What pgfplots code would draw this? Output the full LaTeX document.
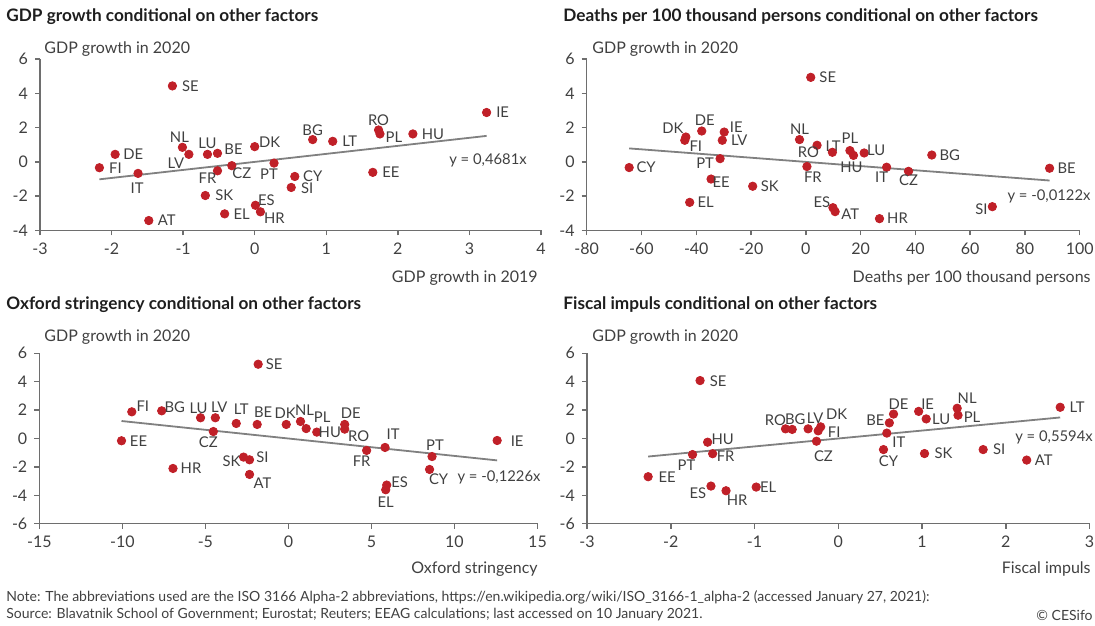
\documentclass[border=0pt]{standalone}
\usepackage{fontspec}
\setmainfont{Lato}
\usepackage{pgfplots}
\usepackage{pgfplotstable}
\pgfplotsset{compat=1.18}

\definecolor{dotred}{RGB}{192,32,40}
\definecolor{trendgray}{RGB}{128,128,128}
\definecolor{axgray}{RGB}{110,110,110}
\definecolor{txt}{RGB}{64,64,64}
\definecolor{ttl}{RGB}{30,30,30}

\newcommand{\tickfont}{\fontsize{8}{9.6}\selectfont}
\newcommand{\lblfont}{\fontsize{7.4}{9}\selectfont}

\pgfplotsset{
  panel/.style={
    scale only axis, clip=false, anchor=south west,
    axis x line*=bottom, axis y line*=left,
    axis line style={draw=axgray, line width=0.75pt, -},
    tick style={draw=axgray, line width=0.75pt},
    tick align=outside, major tick length=2.5pt,
    tick label style={font=\tickfont, text=txt},
    /pgf/number format/assume math mode=true,
  },
  pts/.style={
    only marks, mark=*, mark size=2.1pt, color=dotred,
    nodes near coords, point meta=explicit symbolic,
    visualization depends on={\thisrow{dx}\as\dx},
    visualization depends on={\thisrow{dy}\as\dy},
    every node near coord/.append style={text=txt, font=\lblfont,
      anchor=center, inner sep=0pt, xshift=\dx*0.5pt, yshift=\dy*0.5pt},
  },
  trend/.style={draw=trendgray, line width=0.9pt, no marks},
}

% x y label, label offset dx dy (px)
\pgfplotstableread{
lab x y dx dy
SE -1.15 4.43 18 0
NL -1.01 0.85 -3 10
LV -0.92 0.44 -13 -9
LU -0.66 0.44 0 11
BE -0.52 0.50 16 4
DK 0.00 0.89 15 4
DE -1.95 0.44 18 0
FI -2.17 -0.34 16 0
IT -1.63 -0.67 -1 -15
FR -0.52 -0.52 -10 -7
CZ -0.32 -0.22 10 -8
PT 0.27 -0.07 -5 -11
SK -0.69 -1.96 19 0
ES 0.01 -2.53 11 5
HR 0.08 -2.91 14 -6
EL -0.42 -3.03 17 0
AT -1.48 -3.42 18 0
BG 0.81 1.30 0 9
LT 1.09 1.20 17 0
RO 1.73 1.86 0 10
PL 1.75 1.63 14 -3
HU 2.21 1.63 20 0
IE 3.24 2.88 16 0
CY 0.56 -0.85 18 0
SI 0.51 -1.49 16 -1
EE 1.65 -0.61 18 0
}\tGdp

\pgfplotstableread{
lab x y dx dy
SE 1.8 4.93 17 0
DK -43.8 1.45 -13 9
FI -44.2 1.26 11 -6
DE -38.0 1.80 3 11
IE -29.8 1.74 12 5
LV -30.5 1.26 17 0
PT -31.3 0.19 -15 -5
CY -64.5 -0.33 17 0
EE -34.6 -1.00 10 -3
SK -19.4 -1.42 17 0
EL -42.4 -2.36 16 0
NL -2.3 1.30 0 10
LT 4.1 0.97 16 -1
RO 9.7 0.56 -24 0
FR 0.4 -0.27 6 -11
PL 16.1 0.66 0 12
HU 17.4 0.38 -2 -12
LU 21.3 0.52 12 3
BG 46.0 0.40 18 0
IT 29.5 -0.31 -5 -10
CZ 37.5 -0.55 0 -9
BE 89.0 -0.37 17 0
SI 68.1 -2.61 -11 -3
HR 26.9 -3.31 18 0
ES 9.9 -2.67 -11 5
AT 10.7 -2.90 15 -3
}\tDeaths

\pgfplotstableread{
lab x y dx dy
SE -1.82 5.23 16 0
FI -9.43 1.88 11 6
BG -7.63 1.95 13 4
LU -5.29 1.46 -2 10
LV -4.40 1.46 4 11
LT -3.14 1.06 5 14
BE -1.88 0.99 6 12
CZ -4.52 0.49 -5 -11
EE -10.05 -0.16 17 0
HR -6.95 -2.11 18 0
SK -2.70 -1.31 -12 -4
SI -2.34 -1.50 13 3
AT -2.34 -2.53 13 -9
DK -0.13 0.99 -1 11
NL 0.73 1.20 4 11
PL 1.07 0.70 16 11
HU 1.71 0.45 13 0
DE 3.39 0.99 6 11
RO 3.39 0.66 14 -7
FR 4.71 -0.84 -5 -11
IT 5.82 -0.63 8 13
PT 8.65 -1.27 3 11
CY 8.50 -2.18 9 -10
IE 12.57 -0.14 20 -1
ES 5.92 -3.28 13 3
EL 5.86 -3.61 0 -12
}\tOxford

\pgfplotstableread{
lab x y dx dy
SE -1.65 4.08 18 -1
RO -0.63 0.68 -10 9
BG -0.55 0.64 3 10
LV -0.36 0.68 7 11
DK -0.21 0.82 16 13
FI -0.24 0.54 16 -1
CZ -0.26 -0.19 7 -15
HU -1.56 -0.26 15 3
PT -1.74 -1.13 -6 -11
FR -1.50 -1.07 13 -3
EE -2.27 -2.69 19 0
ES -1.52 -3.35 -13 -7
HR -1.34 -3.68 11 -9
EL -0.98 -3.42 12 0
BE 0.61 1.10 -14 3
DE 0.66 1.72 5 10
IE 0.96 1.91 9 7
LU 1.05 1.38 15 0
NL 1.42 2.13 10 10
PL 1.43 1.64 14 -2
LT 2.65 2.20 17 0
IT 0.58 0.38 12 -9
CY 0.54 -0.78 5 -12
SK 1.03 -1.06 19 0
SI 1.73 -0.78 16 0
AT 2.25 -1.52 17 0
}\tFiscal

\begin{document}
\begin{tikzpicture}
\path[use as bounding box] (0,0) rectangle (547.5pt,-312.5pt);

% GDP growth 2019
\begin{axis}[panel, at={(20pt,-115.25pt)}, width=250.5pt, height=85.75pt,
  xmin=-3, xmax=4, ymin=-4, ymax=6, xtick={-3,...,4}, ytick={-4,-2,...,6}]
  \addplot[trend] coordinates {(-2.17,-1.0158) (3.24,1.5166)};
  \addplot[pts] table[x=x, y=y, meta=lab] {\tGdp};
\end{axis}

% Deaths
\begin{axis}[panel, at={(293.35pt,-115.25pt)}, width=246.5pt, height=85.75pt,
  xmin=-80, xmax=100, ymin=-4, ymax=6, xtick={-80,-60,...,100}, ytick={-4,-2,...,6}]
  \addplot[trend] coordinates {(-64.5,0.7869) (89,-1.0858)};
  \addplot[pts] table[x=x, y=y, meta=lab] {\tDeaths};
\end{axis}

% Oxford stringency
\begin{axis}[panel, at={(19.65pt,-261.85pt)}, width=249.1pt, height=85.2pt,
  xmin=-15, xmax=15, ymin=-6, ymax=6, xtick={-15,-10,...,15}, ytick={-6,-4,...,6}]
  \addplot[trend] coordinates {(-10.05,1.2321) (12.57,-1.5411)};
  \addplot[pts] table[x=x, y=y, meta=lab] {\tOxford};
\end{axis}

% Fiscal impulse
\begin{axis}[panel, at={(293.5pt,-261.85pt)}, width=251.25pt, height=85.2pt,
  xmin=-3, xmax=3, ymin=-6, ymax=6, xtick={-3,...,3}, ytick={-6,-4,...,6}]
  \addplot[trend] coordinates {(-2.27,-1.2698) (2.65,1.4824)};
  \addplot[pts] table[x=x, y=y, meta=lab] {\tFiscal};
\end{axis}

\begin{scope}[x=0.5pt, y=-0.5pt, every node/.style={inner sep=0pt, text=txt}]
  \def\ttlfont{\fontsize{8.6}{10}\selectfont\bfseries}
  \def\axfont{\fontsize{8}{9.6}\selectfont}
  \def\notefont{\fontsize{7}{8.4}\selectfont}
  \node[anchor=west, text=ttl, font=\ttlfont] at (6,17) {GDP growth conditional on other factors};
  \node[anchor=west, text=ttl, font=\ttlfont] at (563,17) {Deaths per 100 thousand persons conditional on other factors};
  \node[anchor=west, text=ttl, font=\ttlfont] at (6,305) {Oxford stringency conditional on other factors};
  \node[anchor=west, text=ttl, font=\ttlfont] at (563,305) {Fiscal impuls conditional on other factors};

  \node[anchor=west, font=\axfont] at (44,49) {GDP growth in 2020};
  \node[anchor=west, font=\axfont] at (592,49) {GDP growth in 2020};
  \node[anchor=west, font=\axfont] at (44,337) {GDP growth in 2020};
  \node[anchor=west, font=\axfont] at (592,337) {GDP growth in 2020};

  \node[anchor=east, font=\axfont] at (538,278) {GDP growth in 2019};
  \node[anchor=east, font=\axfont] at (1091,278) {Deaths per 100 thousand persons};
  \node[anchor=east, font=\axfont] at (538,569) {Oxford stringency};
  \node[anchor=east, font=\axfont] at (1091,569) {Fiscal impuls};

  \node[font=\lblfont] at (488,160) {y = 0,4681x};
  \node[font=\lblfont] at (1049,196) {y = -0,0122x};
  \node[font=\lblfont] at (499,477) {y = -0,1226x};
  \node[font=\lblfont] at (1054,437) {y = 0,5594x};

  \node[anchor=west, font=\notefont] at (6,597) {Note: The abbreviations used are the ISO 3166 Alpha-2 abbreviations, https://en.wikipedia.org/wiki/ISO\_3166-1\_alpha-2 (accessed January 27, 2021):};
  \node[anchor=west, font=\notefont] at (6,615) {Source: Blavatnik School of Government; Eurostat; Reuters; EEAG calculations; last accessed on 10 January 2021.};
  \node[anchor=east, font=\notefont] at (1093,615) {© CESifo};
\end{scope}
\end{tikzpicture}
\end{document}
